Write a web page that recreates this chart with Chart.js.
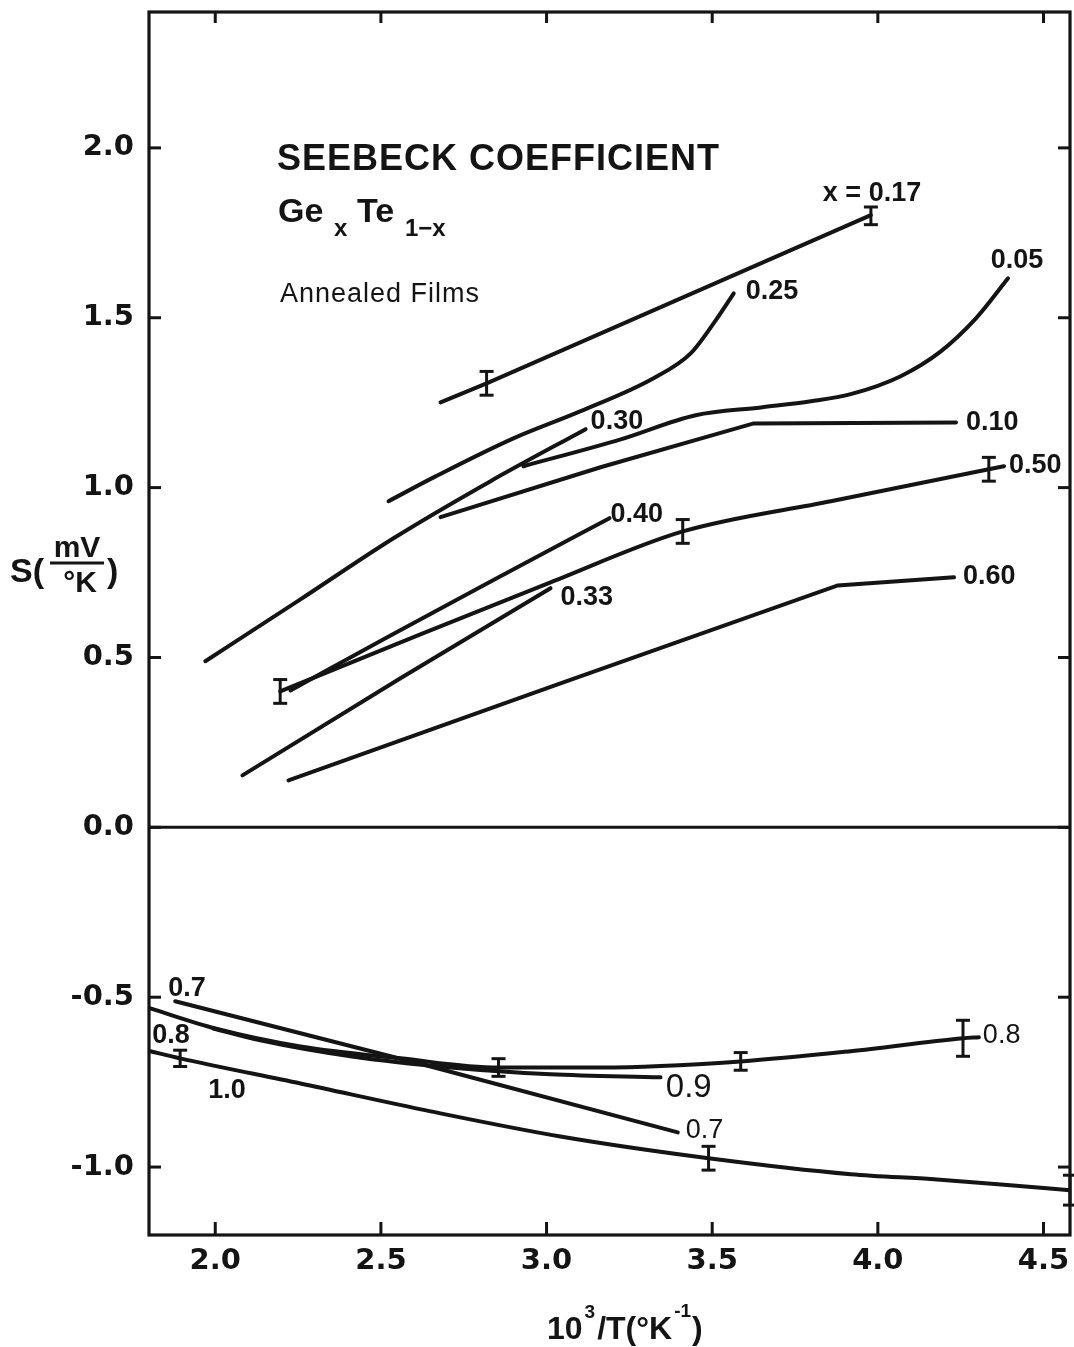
<!DOCTYPE html>
<html><head><meta charset="utf-8">
<script src="https://cdn.jsdelivr.net/npm/chart.js@4.4.1/dist/chart.umd.min.js"></script>
<style>html,body{margin:0;padding:0;background:#fff}#wrap{width:1074px;height:1347px;position:relative}</style>
</head><body><div id="wrap"><canvas id="c" width="1074" height="1347"></canvas></div>
<script>
// ---- tick values ----
const xTicks = [2.0, 2.5, 3.0, 3.5, 4.0, 4.5];
const yTicks = [-1.0, -0.5, 0.0, 0.5, 1.0, 1.5, 2.0];

// ---- series (x = 10^3/T, y = S in mV/K) ----
const x017 = [2.680, 2.819, 3.979];
const y017 = [1.251, 1.307, 1.802];
const x025 = [2.523, 2.665, 2.900, 3.103, 3.323, 3.435, 3.511, 3.565];
const y025 = [0.960, 1.033, 1.145, 1.225, 1.322, 1.395, 1.493, 1.572];
const x005 = [2.930, 3.224, 3.450, 3.647, 3.798, 3.918, 4.069, 4.190, 4.296, 4.393];
const y005 = [1.063, 1.142, 1.213, 1.236, 1.254, 1.275, 1.328, 1.401, 1.498, 1.616];
const x030 = [1.970, 2.257, 2.538, 2.831, 3.118];
const y030 = [0.489, 0.671, 0.851, 1.019, 1.172];
const x010 = [2.680, 3.163, 3.625, 4.236];
const y010 = [0.913, 1.060, 1.189, 1.192];
const x050 = [2.196, 2.619, 3.012, 3.411, 3.858, 4.335, 4.381];
const y050 = [0.400, 0.568, 0.721, 0.871, 0.960, 1.054, 1.063];
const x040 = [2.227, 2.529, 2.861, 3.190];
const y040 = [0.403, 0.565, 0.739, 0.910];
const x033 = [2.082, 2.559, 3.012];
const y033 = [0.153, 0.439, 0.704];
const x060 = [2.221, 3.042, 3.879, 4.230];
const y060 = [0.138, 0.424, 0.712, 0.736];
const x07 = [1.879, 2.650, 3.396];
const y07 = [-0.512, -0.704, -0.898];
const x08 = [1.804, 2.0, 2.257, 2.559, 2.855, 3.163, 3.586, 3.918, 4.257, 4.305];
const y08 = [-0.533, -0.592, -0.645, -0.680, -0.707, -0.707, -0.689, -0.659, -0.621, -0.618];
const x09 = [1.994, 2.136, 2.408, 2.710, 3.012, 3.344];
const y09 = [-0.592, -0.627, -0.674, -0.707, -0.727, -0.736];
const x10 = [1.804, 1.894, 2.257, 2.650, 3.042, 3.489, 3.918, 4.169, 4.372, 4.58];
const y10 = [-0.659, -0.680, -0.754, -0.836, -0.910, -0.974, -1.021, -1.036, -1.051, -1.068];

// ---- error bars ----
const errX = [2.819, 3.979, 2.196, 3.411, 4.335, 1.894, 2.855, 3.586, 4.257, 3.489, 4.58];
const errY = [1.307, 1.800, 0.400, 0.871, 1.054, -0.680, -0.707, -0.689, -0.621, -0.974, -1.068];
const errE = [0.035, 0.026, 0.035, 0.035, 0.035, 0.024, 0.026, 0.026, 0.053, 0.035, 0.044];

// ---- curve labels ----
const noteText = ['x = 0.17', '0.25', '0.05', '0.30', '0.10', '0.50', '0.40', '0.33', '0.60', '0.7', '0.8', '1.0', '0.9', '0.7', '0.8'];
const noteX = [3.834, 3.601, 4.341, 3.133, 4.266, 4.396, 3.193, 3.042, 4.257, 1.858, 1.810, 1.979, 3.360, 3.420, 4.317];
const noteY = [1.866, 1.578, 1.669, 1.195, 1.192, 1.066, 0.921, 0.677, 0.739, -0.474, -0.612, -0.774, -0.768, -0.892, -0.612];

const series = [
  [x017, y017, false], [x025, y025, true], [x005, y005, true], [x030, y030, true],
  [x010, y010, false], [x050, y050, true], [x040, y040, true], [x033, y033, false],
  [x060, y060, false], [x07, y07, false], [x08, y08, true], [x09, y09, true], [x10, y10, true]
];

const INK = '#141414';
const FONT = "'Liberation Sans', Arial, Helvetica, sans-serif";
const TICKFONT = "'DejaVu Sans', 'Liberation Sans', sans-serif";

const decor = {
  id: 'decor',
  afterDatasetsDraw(chart) {
    const {ctx, chartArea: a, scales: {x, y}} = chart;
    ctx.save();
    ctx.strokeStyle = INK; ctx.fillStyle = INK; ctx.lineCap = 'butt';
    const seg = (x1, y1, x2, y2) => { ctx.beginPath(); ctx.moveTo(x1, y1); ctx.lineTo(x2, y2); ctx.stroke(); };
    // frame
    ctx.lineWidth = 3.2;
    ctx.strokeRect(a.left, a.top, a.right - a.left, a.bottom - a.top);
    // zero line
    const y0 = y.getPixelForValue(0);
    ctx.lineWidth = 3;
    seg(a.left, y0, a.right, y0);
    // inward ticks
    ctx.lineWidth = 3;
    xTicks.forEach(v => { const p = x.getPixelForValue(v); seg(p, a.bottom, p, a.bottom - 13); seg(p, a.top, p, a.top + 11); });
    yTicks.forEach(v => { const p = y.getPixelForValue(v); seg(a.left, p, a.left + 12, p); seg(a.right, p, a.right - 12, p); });
    // error bars
    ctx.lineWidth = 3;
    errX.forEach((v, i) => {
      const px = x.getPixelForValue(v);
      const t = y.getPixelForValue(errY[i] + errE[i]);
      const b = y.getPixelForValue(errY[i] - errE[i]);
      seg(px, t, px, b); seg(px - 7, t, px + 7, t); seg(px - 7, b, px + 7, b);
    });
    // curve labels
    ctx.textAlign = 'left'; ctx.textBaseline = 'middle';
    noteText.forEach((s, i) => {
      ctx.font = (s === '0.9') ? `33px ${FONT}` : (i >= 13 ? `27px ${FONT}` : `bold 27px ${FONT}`);
      ctx.fillText(s, x.getPixelForValue(noteX[i]), y.getPixelForValue(noteY[i]));
    });
    // heading
    ctx.textBaseline = 'alphabetic';
    ctx.letterSpacing = '1px';
    ctx.font = `bold 36px ${FONT}`;
    ctx.fillText('SEEBECK COEFFICIENT', 277, 170);
    ctx.letterSpacing = '0px';
    ctx.font = `bold 34px ${FONT}`;
    ctx.fillText('Ge', 278, 222);
    ctx.fillText('Te', 357, 222);
    ctx.font = `bold 24px ${FONT}`;
    ctx.fillText('x', 334, 236);
    ctx.fillText('1\u2212x', 405, 236);
    ctx.letterSpacing = '1px';
    ctx.font = `27px ${FONT}`;
    ctx.fillText('Annealed Films', 280, 302);
    ctx.letterSpacing = '0px';
    // y title
    ctx.font = `bold 34px ${FONT}`;
    ctx.fillText('S(', 10, 582);
    ctx.font = `bold 30px ${FONT}`;
    ctx.textAlign = 'center';
    ctx.fillText('mV', 77, 557);
    ctx.fillText('\u00b0K', 80, 592);
    ctx.lineWidth = 3; seg(50, 563, 104, 563);
    ctx.textAlign = 'left';
    ctx.font = `bold 34px ${FONT}`;
    ctx.fillText(')', 107, 582);
    // x title
    const big = `bold 32px ${FONT}`, small = `bold 19px ${FONT}`;
    let tx = 547;
    ctx.font = big; ctx.fillText('10', tx, 1339); tx += ctx.measureText('10').width + 2;
    ctx.font = small; ctx.fillText('3', tx, 1318); tx += ctx.measureText('3').width + 2;
    ctx.font = big; ctx.fillText('/T(\u00b0K', tx, 1339); tx += ctx.measureText('/T(\u00b0K').width + 2;
    ctx.font = small; ctx.fillText('-1', tx, 1317); tx += ctx.measureText('-1').width + 1;
    ctx.font = big; ctx.fillText(')', tx, 1339);
    ctx.restore();
  }
};

new Chart(document.getElementById('c'), {
  type: 'line',
  data: {
    datasets: series.map(([xs, ys, smooth]) => ({
      data: xs.map((v, i) => ({x: v, y: ys[i]})),
      borderColor: INK, borderWidth: 4, pointRadius: 0, fill: false,
      cubicInterpolationMode: smooth ? 'monotone' : 'default', tension: 0,
      borderCapStyle: 'round'
    }))
  },
  options: {
    responsive: false, animation: false,
    layout: {padding: {top: 12, right: 4, left: 0, bottom: 0}},
    plugins: {legend: {display: false}, tooltip: {enabled: false}},
    scales: {
      x: {
        type: 'linear', min: 1.8, max: 4.58,
        grid: {display: false, drawTicks: false}, border: {display: false},
        afterBuildTicks: s => { s.ticks = xTicks.map(v => ({value: v})); },
        afterFit: s => { s.height = 112; s.paddingLeft = 0; s.paddingRight = 0; },
        ticks: {color: INK, padding: 9, maxRotation: 0, font: {family: TICKFONT, size: 29, weight: 'bold'},
                callback: v => Number(v).toFixed(1)}
      },
      y: {
        type: 'linear', min: -1.2, max: 2.4,
        grid: {display: false, drawTicks: false}, border: {display: false},
        afterBuildTicks: s => { s.ticks = yTicks.map(v => ({value: v})); },
        afterFit: s => { s.width = 149; s.paddingTop = 0; s.paddingBottom = 0; },
        ticks: {color: INK, padding: 15, font: {family: TICKFONT, size: 29, weight: 'bold'},
                callback: v => Number(v).toFixed(1)}
      }
    }
  },
  plugins: [decor]
});
</script></body></html>
